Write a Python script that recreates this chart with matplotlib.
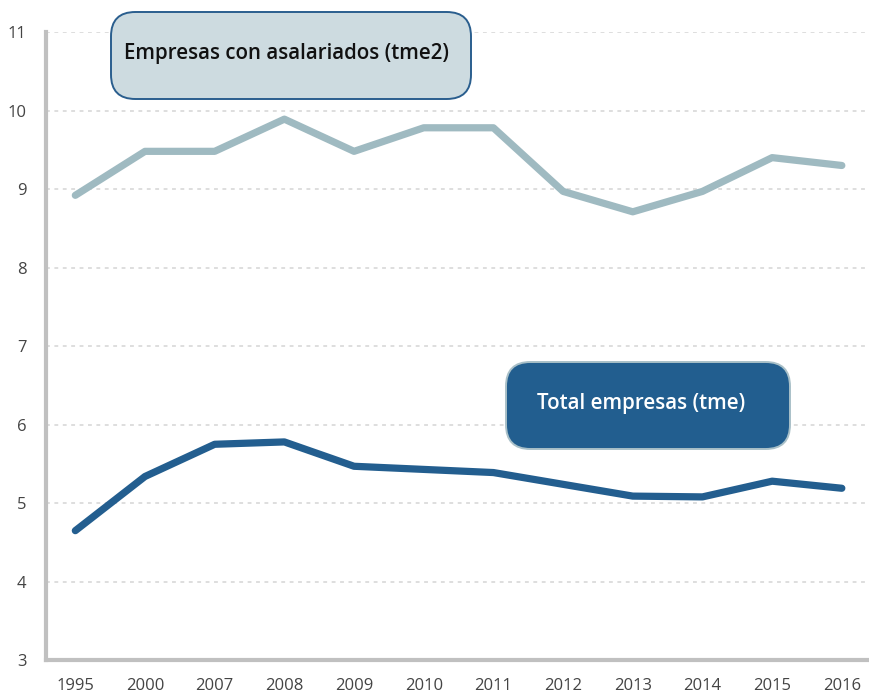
import matplotlib
matplotlib.use('Agg')
import matplotlib.pyplot as plt
from matplotlib.patches import FancyBboxPatch

plt.rcParams['font.family'] = ['Open Sans', 'DejaVu Sans']

anios = ['1995', '2000', '2007', '2008', '2009', '2010', '2011',
         '2012', '2013', '2014', '2015', '2016']
con_asalariados = [8.92, 9.48, 9.48, 9.89, 9.48, 9.78, 9.78, 8.97, 8.71, 8.97, 9.40, 9.30]
total_empresas = [4.65, 5.34, 5.75, 5.78, 5.47, 5.43, 5.39, 5.24, 5.09, 5.08, 5.28, 5.19]
y_ticks = [3, 4, 5, 6, 7, 8, 9, 10, 11]

fig = plt.figure(figsize=(8.69, 6.95), dpi=100)
ax = fig.add_axes([0.053, 0.05, 0.947, 0.904])

x = range(len(anios))
ax.plot(x, con_asalariados, color='#9fbac1', linewidth=5.2, solid_capstyle='round', solid_joinstyle='round')
ax.plot(x, total_empresas, color='#235e8f', linewidth=5.2, solid_capstyle='round', solid_joinstyle='round')

ax.set_xlim(-0.42, 11.39)
ax.set_ylim(3, 11)
ax.set_xticks(list(x))
ax.set_xticklabels(anios)
ax.set_yticks(y_ticks)
ax.tick_params(axis='both', length=0, labelsize=12, labelcolor='#444444')
ax.tick_params(axis='x', pad=13)
ax.tick_params(axis='y', pad=14)

ax.grid(axis='y', linestyle=(0, (2.5, 3)), color='#d4d4d4', linewidth=1.1)
ax.set_axisbelow(True)
for s in ['top', 'right']:
    ax.spines[s].set_visible(False)
for s in ['left', 'bottom']:
    ax.spines[s].set_color('#c0c0c0')
    ax.spines[s].set_linewidth(3)

# cajas de leyenda
W, H = 869, 695
def caja(x0, y0, x1, y1, fc, ec):
    p = FancyBboxPatch((x0 / W, 1 - y1 / H), (x1 - x0) / W, (y1 - y0) / H,
                       boxstyle='round,pad=0,rounding_size=0.028',
                       transform=fig.transFigure, facecolor=fc, edgecolor=ec,
                       linewidth=1.4, mutation_aspect=W / H)
    fig.patches.append(p)

caja(111, 12, 471, 99, '#cddbe0', '#2a5e8e')
fig.text(124 / W, 1 - 53 / H, 'Empresas con asalariados (tme2)', fontsize=14.8,
         fontweight='semibold', color='#111111', va='center', ha='left')

caja(506, 362, 790, 449, '#225e8f', '#a9c0c8')
fig.text(537 / W, 1 - 403 / H, 'Total empresas (tme)', fontsize=14.8,
         fontweight='semibold', color='white', va='center', ha='left')

plt.savefig('out.png', dpi=100)
